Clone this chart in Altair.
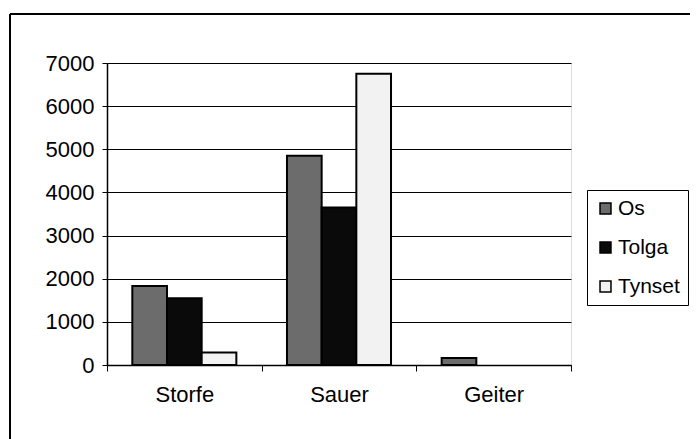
import altair as alt
import pandas as pd

categories = ["Storfe", "Sauer", "Geiter"]
series = ["Os", "Tolga", "Tynset"]
os_vals = [1830, 4850, 160]
tolga_vals = [1550, 3650, 0]
tynset_vals = [290, 6750, 0]
colors = ["#6c6c6c", "#0a0a0a", "#f2f2f2"]
y_ticks = [0, 1000, 2000, 3000, 4000, 5000, 6000, 7000]

rows = []
for i, c in enumerate(categories):
    for s, vals in zip(series, [os_vals, tolga_vals, tynset_vals]):
        rows.append({"cat": c, "series": s, "value": vals[i]})
df = pd.DataFrame(rows)

FONT = "Liberation Sans"

bars = alt.Chart(df).transform_filter("datum.value > 0").mark_bar(
    stroke="black", strokeWidth=2).encode(
    x=alt.X("cat:N", sort=categories, title=None,
            scale=alt.Scale(domain=categories, paddingInner=0, paddingOuter=0),
            axis=alt.Axis(labelAngle=0, tickBand="extent", tickSize=6,
                          labelPadding=13, labelFontSize=22, labelFont=FONT,
                          labelColor="black", domainColor="black", tickColor="black",
                          domainWidth=1.5, grid=False)),
    xOffset=alt.XOffset("series:N", sort=series,
                        scale=alt.Scale(domain=series, paddingInner=0, paddingOuter=0.73)),
    y=alt.Y("value:Q", title=None,
            scale=alt.Scale(domain=[0, 7000], nice=False),
            axis=alt.Axis(values=y_ticks, format="d", tickSize=5, labelPadding=8,
                          labelFontSize=22, labelFont=FONT, labelColor="black",
                          domainColor="black", tickColor="black", domainWidth=1.5,
                          gridColor="black", gridWidth=1.2, gridOpacity=1)),
    color=alt.Color("series:N", sort=series, title=None,
                    scale=alt.Scale(domain=series, range=colors),
                    legend=alt.Legend(orient="none", legendX=480, legendY=127,
                                      symbolType="square", symbolSize=120,
                                      symbolStrokeColor="black", symbolStrokeWidth=1.5,
                                      labelFontSize=21, labelFont=FONT, labelColor="black",
                                      labelOffset=2, rowPadding=17, padding=8,
                                      strokeColor="black", fillColor="white")),
)

frame_df = pd.DataFrame({"a": [0]})
frame_left = alt.Chart(frame_df).mark_rule(color="black", strokeWidth=2).encode(
    x=alt.value(-97), y=alt.value(-49), y2=alt.value(420))
frame_top = alt.Chart(frame_df).mark_rule(color="black", strokeWidth=2).encode(
    x=alt.value(-97), x2=alt.value(640), y=alt.value(-49))

chart = alt.layer(bars, frame_left, frame_top).properties(
    width=464, height=302,
    padding={"left": 99, "top": 55, "right": 119, "bottom": 74},
    autosize=alt.AutoSizeParams(type="none"),
).configure_view(
    fill="#b5b5b5", stroke="black", strokeWidth=1.5
).configure(background="white")

chart.save("out.html", embed_options={"renderer": "svg", "actions": False})
